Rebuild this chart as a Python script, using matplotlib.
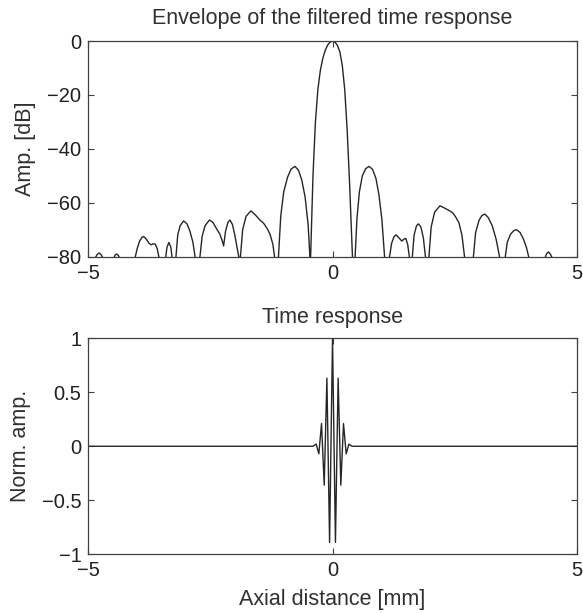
import numpy as np
import matplotlib
matplotlib.use('Agg')
import matplotlib.pyplot as plt

plt.rcParams['font.family'] = ['Liberation Sans', 'DejaVu Sans']

# envelope of the filtered time response (mm, dB)
env_x = [-5.00, -4.86, -4.82, -4.78, -4.74, -4.70, -4.60,
         -4.48, -4.45, -4.42, -4.39, -4.36, -4.20,
         -4.05, -4.00, -3.95, -3.90, -3.87, -3.82, -3.76, -3.71, -3.67, -3.63, -3.59, -3.55, -3.48,
         -3.42, -3.39, -3.35, -3.31, -3.28, -3.24,
         -3.21, -3.17, -3.12, -3.05, -2.98, -2.92, -2.86, -2.81, -2.76,
         -2.72, -2.67, -2.61, -2.52, -2.45, -2.37, -2.31, -2.26, -2.23, -2.19, -2.14, -2.10, -2.05, -2.00, -1.95, -1.91, -1.90,
         -1.89, -1.84, -1.77, -1.67, -1.58, -1.48, -1.41, -1.34, -1.28, -1.22, -1.18, -1.15,
         -1.11, -1.06, -1.00, -0.92, -0.85, -0.77, -0.70, -0.63, -0.56, -0.50, -0.46, -0.455,
         -0.45, -0.40, -0.35, -0.30, -0.25, -0.20, -0.15, -0.10, -0.05, 0.00,
         0.05, 0.10, 0.15, 0.20, 0.25, 0.30, 0.35, 0.41, 0.43,
         0.46, 0.50, 0.55, 0.61, 0.68, 0.75, 0.82, 0.89, 0.95, 1.01, 1.07, 1.10,
         1.16, 1.21, 1.26, 1.30, 1.35, 1.42, 1.46, 1.50, 1.54, 1.58, 1.605,
         1.63, 1.67, 1.72, 1.76, 1.81, 1.86, 1.91, 1.94,
         1.97, 2.02, 2.09, 2.20, 2.30, 2.40, 2.47, 2.53, 2.59, 2.65, 2.71, 2.80,
         2.88, 2.93, 3.00, 3.06, 3.12, 3.19, 3.27, 3.35, 3.43, 3.48,
         3.53, 3.58, 3.65, 3.72, 3.77, 3.84, 3.91, 3.97, 4.03, 4.20,
         4.35, 4.38, 4.42, 4.46, 4.50, 5.00]
env_db = [-86, -80.5, -79.2, -78.6, -79.2, -80.5, -85,
          -80.5, -79.4, -79.0, -79.4, -80.5, -86,
          -81, -77, -74.2, -72.8, -72.5, -73.3, -75.0, -75.6, -75.2, -75.3, -77, -80.5, -85,
          -81, -76.5, -74.7, -76.5, -81, -86,
          -81, -72, -68.5, -66.7, -67.8, -70.5, -74.5, -80.5, -86,
          -81, -72.5, -68.5, -66.4, -67.2, -69.8, -71.5, -74, -76, -70.5, -67.2, -66.4, -68, -72, -77, -81, -86,
          -81, -70, -65, -63, -64.5, -66.5, -67.6, -69.5, -71.6, -75.5, -81, -86,
          -81, -65, -56, -50.5, -47.5, -46.5, -47.8, -51.5, -58, -68, -81, -90,
          -81, -50, -30, -18, -11, -6.5, -3.5, -1.5, -0.4, 0.0,
          -0.4, -1.6, -4, -9, -18, -33, -53, -81, -90,
          -81, -66, -56, -50, -47.3, -46.5, -47.6, -51, -57, -66, -81, -86,
          -81, -75, -72.5, -71.9, -72.8, -74.2, -73.5, -73.2, -75.5, -81, -86,
          -81, -72, -68.5, -67.8, -69, -73, -81, -86,
          -81, -69, -63.5, -61.1, -62, -63, -63.9, -65.5, -67.5, -72, -81, -86,
          -81, -71, -66.5, -64.7, -64.2, -65.5, -68.5, -73.5, -81, -86,
          -81, -74.5, -71.5, -70.2, -70.0, -71, -73.5, -76.5, -81, -86,
          -80.5, -79, -78.2, -79, -80.5, -86]

# time response, carrier peaks (mm, normalised)
rf_x = [-5.00, -0.40, -0.335, -0.28, -0.225, -0.17, -0.115, -0.06, 0.00,
        0.06, 0.115, 0.17, 0.225, 0.28, 0.335, 0.40, 5.00]
rf_amp = [0.0, 0.0, 0.02, -0.07, 0.21, -0.36, 0.63, -0.89, 1.00,
          -0.89, 0.63, -0.36, 0.21, -0.07, 0.02, 0.0, 0.0]

line_col = '#262626'
edge_col = '#404040'
txt_col = '#303030'

fig = plt.figure(figsize=(5.83, 6.13), dpi=100)
ax1 = fig.add_axes([0.1515, 0.5812, 0.8377, 0.3519])
ax2 = fig.add_axes([0.1515, 0.0958, 0.8377, 0.3524])

ax1.plot(env_x, env_db, color=line_col, lw=1.0)
ax1.set_xlim(-5, 5)
ax1.set_ylim(-80, 0)
ax1.set_yticks([-80, -60, -40, -20, 0])
ax1.set_xticks([-5, 0, 5])
ax1.set_ylabel('Amp. [dB]', color=txt_col, labelpad=8)
ax1.set_title('Envelope of the filtered time response', color=txt_col, pad=12)

ax2.plot(rf_x, rf_amp, color=line_col, lw=1.0)
ax2.set_xlim(-5, 5)
ax2.set_ylim(-1, 1)
ax2.set_yticks([-1, -0.5, 0, 0.5, 1])
ax2.set_yticklabels(['\u22121', '\u22120.5', '0', '0.5', '1'])
ax2.set_xticks([-5, 0, 5])
ax2.set_ylabel('Norm. amp.', color=txt_col, labelpad=8)
ax2.set_xlabel('Axial distance [mm]', color=txt_col, labelpad=6)
ax2.set_title('Time response', color=txt_col, pad=11)

for ax in (ax1, ax2):
    ax.tick_params(direction='in', length=4, width=0.8, top=True, right=True,
                   labelsize=14.5, colors=edge_col, labelcolor='#202020', pad=5)
    ax.xaxis.label.set_size(15.5)
    ax.yaxis.label.set_size(15.5)
    ax.title.set_size(15.5)
    for s in ax.spines.values():
        s.set_color(edge_col)
        s.set_linewidth(0.9)

plt.savefig('out.png', dpi=100)
